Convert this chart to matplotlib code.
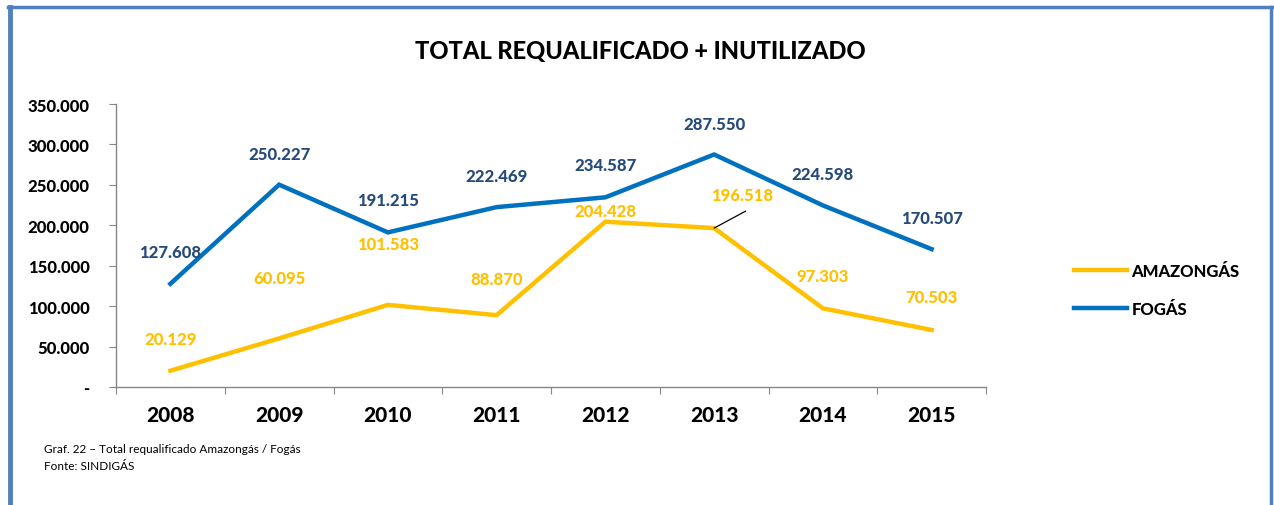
import matplotlib
matplotlib.use("Agg")
import matplotlib.pyplot as plt
from matplotlib.lines import Line2D
from matplotlib.ticker import FixedLocator, FuncFormatter

plt.rcParams['font.family'] = ['Lato', 'DejaVu Sans']

years = ["2008", "2009", "2010", "2011", "2012", "2013", "2014", "2015"]
amazongas = [20129, 60095, 101583, 88870, 204428, 196518, 97303, 70503]
fogas = [127608, 250227, 191215, 222469, 234587, 287550, 224598, 170507]

# label offsets in pixels (dx, dy) from each point
amaz_off = [(0, 32), (0, 60), (0, 61), (0, 36), (0, 11), (28, 33), (0, 32), (0, 33)]
fogas_off = [(0, 32), (0, 31), (0, 32), (0, 31), (0, 32), (0, 30), (0, 31), (0, 31)]

YELLOW = "#FFC000"
BLUE = "#0070C0"
NAVY = "#254A7C"
GRID = "#868686"
WT = "black"

W, H = 1274, 506
fig = plt.figure(figsize=(W / 100, H / 100), dpi=100)

ax = fig.add_axes([116 / W, 1 - 388 / H, (986 - 116) / W, (388 - 105) / H])
x = list(range(len(years)))
ax.plot(x, amazongas, color=YELLOW, lw=3.2, solid_joinstyle="miter", label="AMAZONGÁS")
ax.plot(x, fogas, color=BLUE, lw=3.2, solid_joinstyle="miter", label="FOGÁS")

ax.set_xlim(-0.5, len(years) - 0.5)
ax.set_ylim(0, 350000)

def fmt(v):
    return f"{int(v):,}".replace(",", ".")

for i, v in enumerate(fogas):
    ax.annotate(fmt(v), (i, v), xytext=(fogas_off[i][0] * 0.72, fogas_off[i][1] * 0.72),
                textcoords="offset points", ha="center", va="center",
                color=NAVY, fontsize=12, fontweight=WT)
for i, v in enumerate(amazongas):
    ax.annotate(fmt(v), (i, v), xytext=(amaz_off[i][0] * 0.72, amaz_off[i][1] * 0.72),
                textcoords="offset points", ha="center", va="center",
                color=YELLOW, fontsize=12, fontweight=WT)
# leader line for the 2013 label
ax.annotate("", (5, amazongas[5]), xytext=(5 + 0.29, amazongas[5] + 21000),
            arrowprops=dict(arrowstyle="-", color="black", lw=0.9, shrinkA=0, shrinkB=0))

for s in ["top", "right"]:
    ax.spines[s].set_visible(False)
for s in ["left", "bottom"]:
    ax.spines[s].set_color(GRID)
    ax.spines[s].set_linewidth(1.0)

ax.yaxis.set_major_locator(FixedLocator(range(0, 350001, 50000)))
ax.yaxis.set_major_formatter(FuncFormatter(lambda v, p: "-" if v == 0 else fmt(v)))
ax.set_xticks([i - 0.5 for i in range(len(years) + 1)])
ax.set_xticklabels([])
ax.set_xticks(x, minor=True)
ax.set_xticklabels(years, minor=True)
ax.tick_params(axis="x", which="major", length=5, color=GRID, direction="out")
ax.tick_params(axis="x", which="minor", length=0, pad=13, labelsize=15)
ax.tick_params(axis="y", length=5, color=GRID, pad=14, labelsize=12)
for t in ax.get_xticklabels(minor=True) + ax.get_yticklabels():
    t.set_fontweight(WT)

fig.text(640 / W, 1 - 52 / H, "TOTAL REQUALIFICADO + INUTILIZADO", ha="center", va="center",
         fontsize=17, fontweight=WT)

handles = [Line2D([], [], color=YELLOW, lw=3.2), Line2D([], [], color=BLUE, lw=3.2)]
fig.legend(handles, ["AMAZONGÁS", "FOGÁS"], loc="center left",
           bbox_to_anchor=(1074 / W, 1 - 291 / H), frameon=False, handlelength=3.2,
           handletextpad=0.25, labelspacing=1.35, borderpad=0, borderaxespad=0,
           prop=dict(weight=WT, size=12))

fig.text(44 / W, 1 - 450 / H, "Graf. 22 – Total requalificado Amazongás / Fogás", fontsize=8.5, va="center")
fig.text(44 / W, 1 - 467 / H, "Fonte: SINDIGÁS", fontsize=8.5, va="center")

# blue frame around the chart
frame = "#4F81BD"
fig.add_artist(Line2D([10 / W, 10 / W], [0, 1 - 8 / H], color=frame, lw=3.5, transform=fig.transFigure))
fig.add_artist(Line2D([8 / W, 1272 / W], [1 - 8 / H, 1 - 8 / H], color=frame, lw=2.5, transform=fig.transFigure))
fig.add_artist(Line2D([1271 / W, 1271 / W], [0, 1 - 8 / H], color=frame, lw=2.5, transform=fig.transFigure))

fig.savefig("out.png", dpi=100)
